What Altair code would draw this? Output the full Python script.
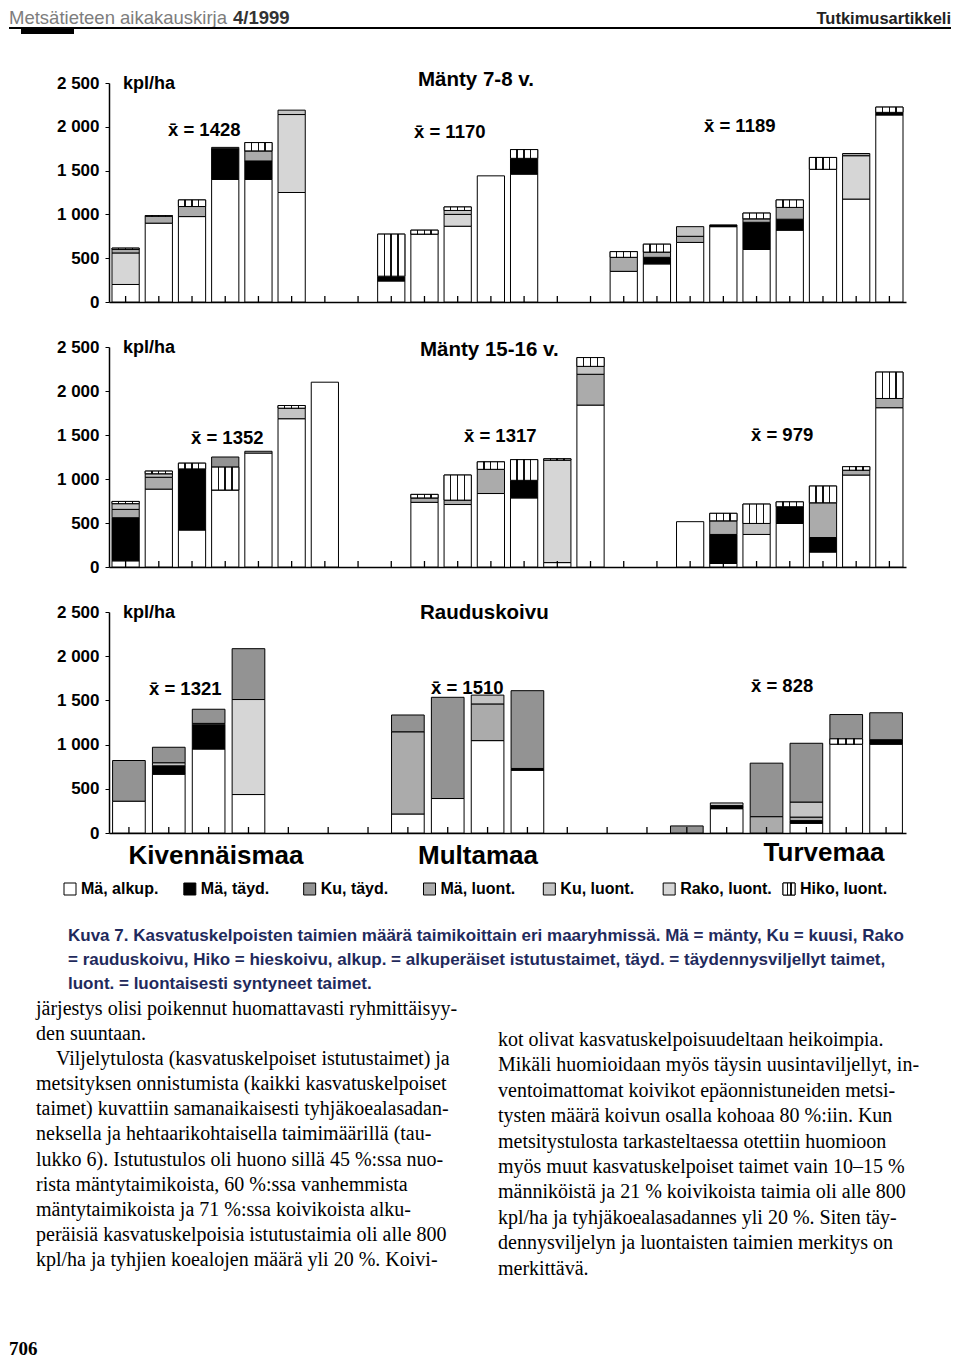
import altair as alt
import pandas as pd

FONT = "Liberation Sans"
SERIF = "Liberation Serif"

# ---------------- data ----------------
# stacking order (bottom -> top)
categories = ["Mä, alkup.", "Mä, täyd.", "Rako, luont.", "Mä, luont.", "Ku, luont.", "Hiko, luont.", "Ku, täyd."]
legend_order = ["Mä, alkup.", "Mä, täyd.", "Ku, täyd.", "Mä, luont.", "Ku, luont.", "Rako, luont.", "Hiko, luont."]
legend_colors = ["#ffffff", "#000000", "#939393", "#ababab", "#c4c4c4", "#d6d6d6", "#ffffff"]
soil_groups = ["Kivennäismaa", "Multamaa", "Turvemaa"]
y_ticks = list(range(0, 2501, 250))

# Panel 1: Mänty 7-8 v.
p1_title = "Mänty 7-8 v."
p1_n_slots = 24
p1_slots = [0, 1, 2, 3, 4, 5, 8, 9, 10, 11, 12, 15, 16, 17, 18, 19, 20, 21, 22, 23]
p1_ma_alkup = [200, 900, 975, 1400, 1400, 1250, 240, 775, 865, 1440, 1460, 350, 435, 680, 860, 600, 820, 1515, 1175, 2135]
p1_ma_tayd = [0, 0, 0, 350, 210, 0, 55, 0, 0, 0, 180, 0, 75, 0, 20, 310, 125, 0, 0, 30]
p1_rako_luont = [360, 0, 0, 0, 0, 890, 0, 0, 135, 0, 0, 0, 0, 0, 0, 0, 0, 0, 495, 0]
p1_ma_luont = [40, 80, 115, 0, 115, 0, 0, 0, 0, 0, 0, 160, 60, 70, 0, 40, 135, 0, 25, 0]
p1_ku_luont = [0, 0, 0, 15, 0, 50, 0, 0, 45, 0, 0, 0, 0, 110, 0, 0, 0, 0, 0, 0]
p1_hiko_luont = [15, 5, 75, 0, 95, 0, 480, 45, 40, 0, 100, 65, 90, 0, 0, 65, 85, 135, 0, 60]
p1_ku_tayd = [0] * 20
p1_means = [1428, 1170, 1189]

# Panel 2: Mänty 15-16 v.
p2_title = "Mänty 15-16 v."
p2_n_slots = 24
p2_slots = [0, 1, 2, 3, 4, 5, 6, 9, 10, 11, 12, 13, 14, 17, 18, 19, 20, 21, 22, 23]
p2_ma_alkup = [70, 885, 420, 875, 1295, 1685, 2100, 735, 710, 835, 785, 50, 1840, 515, 40, 370, 495, 170, 1045, 1810]
p2_ma_tayd = [490, 0, 695, 0, 0, 0, 0, 0, 0, 0, 200, 0, 0, 0, 330, 0, 190, 165, 0, 0]
p2_rako_luont = [0, 0, 0, 0, 0, 0, 0, 0, 0, 0, 0, 1165, 0, 0, 0, 0, 0, 0, 0, 0]
p2_ma_luont = [95, 135, 0, 0, 0, 0, 0, 50, 50, 275, 0, 0, 350, 0, 155, 0, 0, 395, 55, 105]
p2_ku_luont = [65, 40, 0, 0, 20, 120, 0, 0, 0, 0, 0, 0, 90, 0, 0, 125, 0, 0, 0, 0]
p2_hiko_luont = [25, 30, 65, 260, 0, 30, 0, 40, 285, 85, 235, 15, 100, 0, 85, 220, 55, 190, 40, 300]
p2_ku_tayd = [0, 0, 0, 115, 0, 0, 0, 0, 0, 0, 0, 0, 0, 0, 0, 0, 0, 0, 0, 0]
p2_means = [1352, 1317, 979]

# Panel 3: Rauduskoivu
p3_title = "Rauduskoivu"
p3_n_slots = 20
p3_slots = [0, 1, 2, 3, 7, 8, 9, 10, 14, 15, 16, 17, 18, 19]
p3_ma_alkup = [360, 665, 950, 435, 215, 390, 1045, 710, 0, 275, 0, 110, 1005, 1005]
p3_ma_tayd = [0, 95, 275, 0, 0, 0, 0, 20, 0, 35, 0, 30, 0, 50]
p3_rako_luont = [0, 0, 0, 1075, 0, 0, 0, 0, 0, 0, 0, 0, 0, 0]
p3_ma_luont = [0, 0, 0, 0, 930, 0, 415, 0, 0, 0, 185, 40, 0, 0]
p3_ku_luont = [0, 35, 15, 0, 0, 0, 100, 0, 0, 30, 0, 170, 0, 0]
p3_hiko_luont = [0, 0, 0, 0, 0, 0, 0, 0, 0, 0, 0, 0, 60, 0]
p3_ku_tayd = [460, 175, 160, 575, 190, 1145, 0, 880, 80, 0, 605, 665, 275, 305]
p3_means = [1321, 1510, 828]

header_left = "Metsätieteen aikakauskirja"
header_issue = "4/1999"
header_right = "Tutkimusartikkeli"
caption_lines = [
    "Kuva 7. Kasvatuskelpoisten taimien määrä taimikoittain eri maaryhmissä. Mä = mänty, Ku = kuusi, Rako",
    "= rauduskoivu, Hiko = hieskoivu, alkup. = alkuperäiset istutustaimet, täyd. = täydennysviljellyt taimet,",
    "luont. = luontaisesti syntyneet taimet.",
]
body_left_a = [
    "järjestys olisi poikennut huomattavasti ryhmittäisyy-",
    "den suuntaan.",
]
body_left_indent = "Viljelytulosta (kasvatuskelpoiset istutustaimet) ja"
body_left_b = [
    "metsityksen onnistumista (kaikki kasvatuskelpoiset",
    "taimet) kuvattiin samanaikaisesti tyhjäkoealasadan-",
    "neksella ja hehtaarikohtaisella taimimäärillä (tau-",
    "lukko 6). Istutustulos oli huono sillä 45 %:ssa nuo-",
    "rista mäntytaimikoista, 60 %:ssa vanhemmista",
    "mäntytaimikoista ja 71 %:ssa koivikoista alku-",
    "peräisiä kasvatuskelpoisia istutustaimia oli alle 800",
    "kpl/ha ja tyhjien koealojen määrä yli 20 %. Koivi-",
]
body_right = [
    "kot olivat kasvatuskelpoisuudeltaan heikoimpia.",
    "Mikäli huomioidaan myös täysin uusintaviljellyt, in-",
    "ventoimattomat koivikot epäonnistuneiden metsi-",
    "tysten määrä koivun osalla kohoaa 80 %:iin. Kun",
    "metsitystulosta tarkasteltaessa otettiin huomioon",
    "myös muut kasvatuskelpoiset taimet vain 10–15 %",
    "männiköistä ja 21 % koivikoista taimia oli alle 800",
    "kpl/ha ja tyhjäkoealasadannes yli 20 %. Siten täy-",
    "dennysviljelyn ja luontaisten taimien merkitys on",
    "merkittävä.",
]
page_number = "706"

# ---------------- helpers ----------------
PW = 797
dummy = pd.DataFrame({"d": [0]})
color_scale = alt.Scale(domain=legend_order, range=legend_colors)


def stripes(bands):
    stops = [alt.GradientStop(offset=0, color="white")]
    for a, b in bands:
        stops += [alt.GradientStop(offset=a, color="white"), alt.GradientStop(offset=a, color="#111111"),
                  alt.GradientStop(offset=b, color="#111111"), alt.GradientStop(offset=b, color="white")]
    stops.append(alt.GradientStop(offset=1, color="white"))
    return alt.LinearGradient(gradient="linear", x1=0, x2=1, y1=0, y2=0, stops=stops)


hiko_fill = stripes([(0.22, 0.27), (0.47, 0.52), (0.72, 0.77)])
hiko_legend_fill = stripes([(0.30, 0.40), (0.62, 0.72)])


def txt(text, x, y, size, weight="bold", align="left", baseline="middle", font=FONT,
        color="black", line_height=None):
    kw = dict(align=align, baseline=baseline, font=font, fontSize=size, fontWeight=weight,
              color=color, text=text)
    if line_height is not None:
        kw["lineHeight"] = line_height
    return alt.Chart(dummy).mark_text(**kw).encode(x=alt.value(x), y=alt.value(y))


def panel_df(slots, series):
    rows = []
    for i, s in enumerate(slots):
        for ci, (cat, vals) in enumerate(zip(categories, series)):
            if vals[i] > 0:
                rows.append({"slot": s, "cat": cat, "ci": ci, "value": vals[i]})
    return pd.DataFrame(rows)


def panel(df, n_slots, h, title, title_xy, means, mean_xy):
    slot_domain = list(range(n_slots))
    xs = alt.Scale(domain=slot_domain, paddingInner=0.18, paddingOuter=0.09)
    ys = alt.Scale(domain=[0, 2500], nice=False, zero=True)
    xaxis = alt.Axis(labels=False, ticks=False, title=None, domainColor="black", domainWidth=1.5, grid=False)
    yaxis = alt.Axis(values=y_ticks, title=None, grid=False, labelOverlap=False,
                     labelExpr="datum.value % 500 == 0 ? replace(format(datum.value, ','), ',', ' ') : ''",
                     labelFont=FONT, labelFontSize=17, labelFontWeight="bold", labelColor="black",
                     labelPadding=6, tickSize=4, tickColor="black", domainColor="black", domainWidth=1.5)
    base = alt.Chart(df).transform_stack(
        stack="value", groupby=["slot"], as_=["v0", "v1"], sort=[alt.SortField("ci", order="ascending")])
    bars = base.mark_bar(stroke="black", strokeWidth=1).encode(
        x=alt.X("slot:O", scale=xs, axis=xaxis),
        y=alt.Y("v0:Q", scale=ys, axis=yaxis),
        y2="v1:Q",
        color=alt.Color("cat:N", scale=color_scale, legend=None),
    )
    hiko = base.transform_filter(alt.datum.cat == "Hiko, luont.").mark_bar(
        fill=hiko_fill, stroke="black", strokeWidth=1).encode(
        x=alt.X("slot:O", scale=xs), y=alt.Y("v0:Q", scale=ys), y2="v1:Q")
    ticks = alt.Chart(pd.DataFrame({"slot": slot_domain})).mark_rule(
        color="black", strokeWidth=1.3).encode(
        x=alt.X("slot:O", scale=xs), y=alt.datum(0), y2=alt.value(h - 6))
    layers = [bars, hiko, ticks,
              txt("kpl/ha", 14, 1, 18),
              txt(title, title_xy[0], title_xy[1], 20.5)]
    for m, (mx, my) in zip(means, mean_xy):
        layers.append(txt("x\u0304 = " + str(m), mx, my, 18.5))
    return alt.layer(*layers).properties(width=PW, height=h)


p1 = panel(panel_df(p1_slots, [p1_ma_alkup, p1_ma_tayd, p1_rako_luont, p1_ma_luont, p1_ku_luont, p1_hiko_luont, p1_ku_tayd]),
           p1_n_slots, 219, p1_title, (309, -3), p1_means, [(59, 47), (305, 49), (595, 43)])
p2 = panel(panel_df(p2_slots, [p2_ma_alkup, p2_ma_tayd, p2_rako_luont, p2_ma_luont, p2_ku_luont, p2_hiko_luont, p2_ku_tayd]),
           p2_n_slots, 220, p2_title, (311, 3), p2_means, [(82, 91), (355, 89), (642, 88)])
p3 = panel(panel_df(p3_slots, [p3_ma_alkup, p3_ma_tayd, p3_rako_luont, p3_ma_luont, p3_ku_luont, p3_hiko_luont, p3_ku_tayd]),
           p3_n_slots, 221, p3_title, (311, 1), p3_means, [(40, 77), (322, 76), (642, 74)])

# header
header = alt.layer(
    txt(header_left, -100, 16, 18.5, weight="normal", baseline="alphabetic", color="#7d7d7d"),
    txt(header_issue, 124, 16, 18.5, weight="bold", baseline="alphabetic", color="#333333"),
    txt(header_right, 842, 16, 16.5, weight="bold", align="right", baseline="alphabetic", color="#222222"),
    alt.Chart(dummy).mark_rule(color="black", strokeWidth=2).encode(
        x=alt.value(-100), x2=alt.value(842), y=alt.value(20)),
    alt.Chart(dummy).mark_rule(color="black", strokeWidth=6).encode(
        x=alt.value(-88), x2=alt.value(-35), y=alt.value(23)),
).properties(width=PW, height=30)

# footer: soil labels, legend, caption, body text
leg_df = pd.DataFrame({"cat": legend_order})
leg_x = alt.X("cat:N", scale=alt.Scale(type="point", domain=legend_order, range=[-39, 680], padding=0), axis=None)
leg_sq = alt.Chart(leg_df).mark_square(size=144, stroke="black", strokeWidth=1, opacity=1).encode(
    x=leg_x, y=alt.value(11), color=alt.Color("cat:N", scale=color_scale, legend=None))
leg_hiko = alt.Chart(leg_df).transform_filter(alt.datum.cat == "Hiko, luont.").mark_square(
    size=144, stroke="black", strokeWidth=1, opacity=1, fill=hiko_legend_fill).encode(x=leg_x, y=alt.value(11))
leg_txt = alt.Chart(leg_df).mark_text(align="left", baseline="middle", dx=11, font=FONT, fontSize=16,
                                      fontWeight="bold", color="black").encode(
    x=leg_x, y=alt.value(11), text="cat:N")

LH_L = 25.1
BODY = 20
footer = alt.layer(
    txt(soil_groups[0], 107, -22, 26, align="center"),
    txt(soil_groups[1], 369, -22, 26, align="center"),
    txt(soil_groups[2], 715, -25, 26, align="center"),
    leg_sq, leg_hiko, leg_txt,
    txt(caption_lines, -41, 63, 17, baseline="alphabetic", color="#1f2a5c", line_height=24),
    txt(body_left_a, -73, 137, BODY, weight="normal", baseline="alphabetic", font=SERIF, line_height=LH_L),
    txt(body_left_indent, -53, 137 + 2 * LH_L, BODY, weight="normal", baseline="alphabetic", font=SERIF),
    txt(body_left_b, -73, 137 + 3 * LH_L, BODY, weight="normal", baseline="alphabetic", font=SERIF, line_height=LH_L),
    txt(body_right, 389, 168, BODY, weight="normal", baseline="alphabetic", font=SERIF, line_height=25.4),
    txt(page_number, -100, 477, 19, weight="bold", baseline="alphabetic", font=SERIF),
).properties(width=PW, height=470)

chart = alt.vconcat(header, p1, p2, p3, footer, spacing=45, bounds="flush").resolve_scale(
    x="independent", y="independent").properties(padding=0).configure(font=FONT).configure_view(
    stroke=None, strokeWidth=0)

chart.save("out.html", embed_options={"renderer": "svg", "actions": False})
